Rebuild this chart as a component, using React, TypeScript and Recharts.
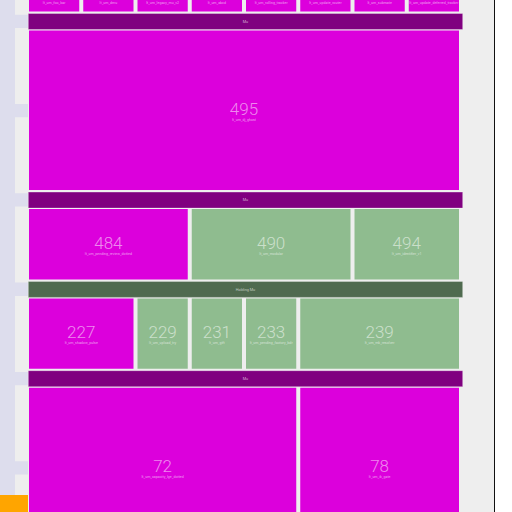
import { ComposedChart, XAxis, YAxis, ReferenceArea } from 'recharts';

// grid: 8 columns across the main area, rows measured in "levels"
const COL_PX = 54.25;
const LEVEL_PX = 89.3;
const ORIGIN_X = 27;
const ORIGIN_Y = 12.5;
const SIZE = 512;

// partial row at the top (level -1), one column each
const TOP_COLS = [0, 1, 2, 3, 4, 5, 6, 7];
const TOP_LABELS = [
  'lt_um_foo_bar', 'lt_um_dmu', 'lt_um_legacy_mu_v2', 'lt_um_abcd',
  'lt_um_rolling_tracker', 'lt_um_update_router', 'lt_um_submate', 'lt_um_update_deferred_tracker',
];

// group headers
const HEADER_LEVELS = [0, 2, 3, 4];
const HEADER_LABELS = ['Mu', 'Mu', 'Holding Mu', 'Mu'];
const HEADER_COLORS = ['#800080', '#800080', '#4f6a4f', '#800080'];

// boxes
const BOX_VALUES = [495, 484, 490, 494, 227, 229, 231, 233, 239, 72, 78];
const BOX_LABELS = [
  'lt_um_dj_ghost', 'lt_um_pending_review_dotted', 'lt_um_modular', 'lt_um_identifier_v1',
  'lt_um_shadow_pulse', 'lt_um_upload_try', 'lt_um_gift', 'lt_um_pending_factory_bdr',
  'lt_um_mk_resolver', 'lt_um_capacity_lge_dotted', 'lt_um_ik_gate',
];
const BOX_LEVEL = [0, 2, 2, 2, 3, 3, 3, 3, 3, 4, 4];
const BOX_LEVEL_SPAN = [2, 1, 1, 1, 1, 1, 1, 1, 1, 2, 2];
const BOX_COL = [0, 0, 3, 6, 0, 2, 3, 4, 5, 0, 5];
const BOX_SPAN = [8, 3, 3, 2, 2, 1, 1, 1, 3, 5, 3];
const BOX_KIND = ['m', 'm', 'g', 'g', 'm', 'g', 'g', 'g', 'g', 'm', 'm'];

// sidebar blocks, one per level
const SIDE_LEVELS = [-1, 0, 1, 2, 3, 4, 5];

const KIND_COLOR: Record<string, string> = { m: '#dc00dc', g: '#8fbc8f' };
const px = (v: number) => v / COL_PX;
const py = (v: number) => v / LEVEL_PX;

const FONT = 'Roboto, "Noto Sans", sans-serif';

function BoxLabel({ viewBox, value, sub, top }: any) {
  if (!viewBox) return null;
  const { x, y, width, height } = viewBox;
  const cx = x + width / 2;
  const cy = y + height / 2;
  if (top) {
    return (
      <text x={cx} y={y + height - 8} textAnchor="middle" fontSize={3.6} fill="rgba(255,255,255,0.6)" fontFamily={FONT}>
        {sub}
      </text>
    );
  }
  return (
    <g fontFamily={FONT}>
      <text x={cx} y={cy + 4.5} textAnchor="middle" fontSize={17} fontWeight={300} fill="rgba(255,255,255,0.55)">
        {value}
      </text>
      <text x={cx} y={cy + 10.5} textAnchor="middle" fontSize={3.6} fill="rgba(255,255,255,0.6)">
        {sub}
      </text>
    </g>
  );
}

function HeaderLabel({ viewBox, text }: any) {
  if (!viewBox) return null;
  const { x, y, width, height } = viewBox;
  return (
    <text x={x + width / 2} y={y + height / 2 + 1.3} textAnchor="middle" fontSize={3.8} fill="rgba(255,255,255,0.65)" fontFamily={FONT}>
      {text}
    </text>
  );
}

export default function App() {
  const xDomain = [-ORIGIN_X / COL_PX, (SIZE - ORIGIN_X) / COL_PX];
  const yDomain = [-ORIGIN_Y / LEVEL_PX, (SIZE - ORIGIN_Y) / LEVEL_PX];

  return (
    <div style={{ position: 'absolute', left: 0, top: 0, width: SIZE, height: SIZE, overflow: 'hidden', background: '#ffffff' }}>
      <div style={{ position: 'absolute', left: 0, top: 0, width: 28, height: SIZE, background: '#dddded' }} />
      <div style={{ position: 'absolute', left: 28, top: 0, width: 465.5, height: SIZE, background: '#eeeeee' }} />
      <div style={{ position: 'absolute', left: 493.5, top: 0, width: 1.6, height: SIZE, background: '#111111' }} />
      <div style={{ position: 'absolute', left: 0, top: 0 }}>
        <ComposedChart width={SIZE} height={SIZE} margin={{ top: 0, right: 0, bottom: 0, left: 0 }} data={[]}>
          <XAxis type="number" dataKey="x" domain={xDomain} allowDataOverflow hide />
          <YAxis type="number" dataKey="y" domain={yDomain} allowDataOverflow reversed hide />

          {SIDE_LEVELS.map((l) => (
            <ReferenceArea
              key={`side-${l}`}
              x1={px(-12)}
              x2={px(1)}
              y1={l + py(15.5)}
              y2={l + py(91.5)}
              fill="#eeeeee"
              fillOpacity={1}
              ifOverflow="visible"
            />
          ))}

          {TOP_COLS.map((c, i) => (
            <ReferenceArea
              key={`top-${i}`}
              x1={c + px(2)}
              x2={c + 1 - px(2)}
              y1={-1 + py(18)}
              y2={-py(1)}
              fill={KIND_COLOR.m}
              fillOpacity={1}
              ifOverflow="visible"
              label={<BoxLabel sub={TOP_LABELS[i]} top />}
            />
          ))}

          {HEADER_LEVELS.map((l, i) => (
            <ReferenceArea
              key={`hdr-${i}`}
              x1={px(1.3)}
              x2={8 + px(1.7)}
              y1={l + py(1)}
              y2={l + py(17)}
              fill={HEADER_COLORS[i]}
              fillOpacity={1}
              stroke="rgba(255,255,255,0.3)"
              strokeWidth={1}
              ifOverflow="visible"
              label={<HeaderLabel text={HEADER_LABELS[i]} />}
            />
          ))}

          {BOX_VALUES.map((v, i) => (
            <ReferenceArea
              key={`box-${i}`}
              x1={BOX_COL[i] + px(2)}
              x2={BOX_COL[i] + BOX_SPAN[i] - px(2)}
              y1={BOX_LEVEL[i] + py(18)}
              y2={BOX_LEVEL[i] + BOX_LEVEL_SPAN[i] - py(1)}
              fill={KIND_COLOR[BOX_KIND[i]]}
              fillOpacity={1}
              ifOverflow="visible"
              label={<BoxLabel value={v} sub={BOX_LABELS[i]} />}
            />
          ))}
        </ComposedChart>
      </div>
      <div style={{ position: 'absolute', left: 0, top: 495, width: 28, height: 17, background: '#ffa500' }} />
    </div>
  );
}
